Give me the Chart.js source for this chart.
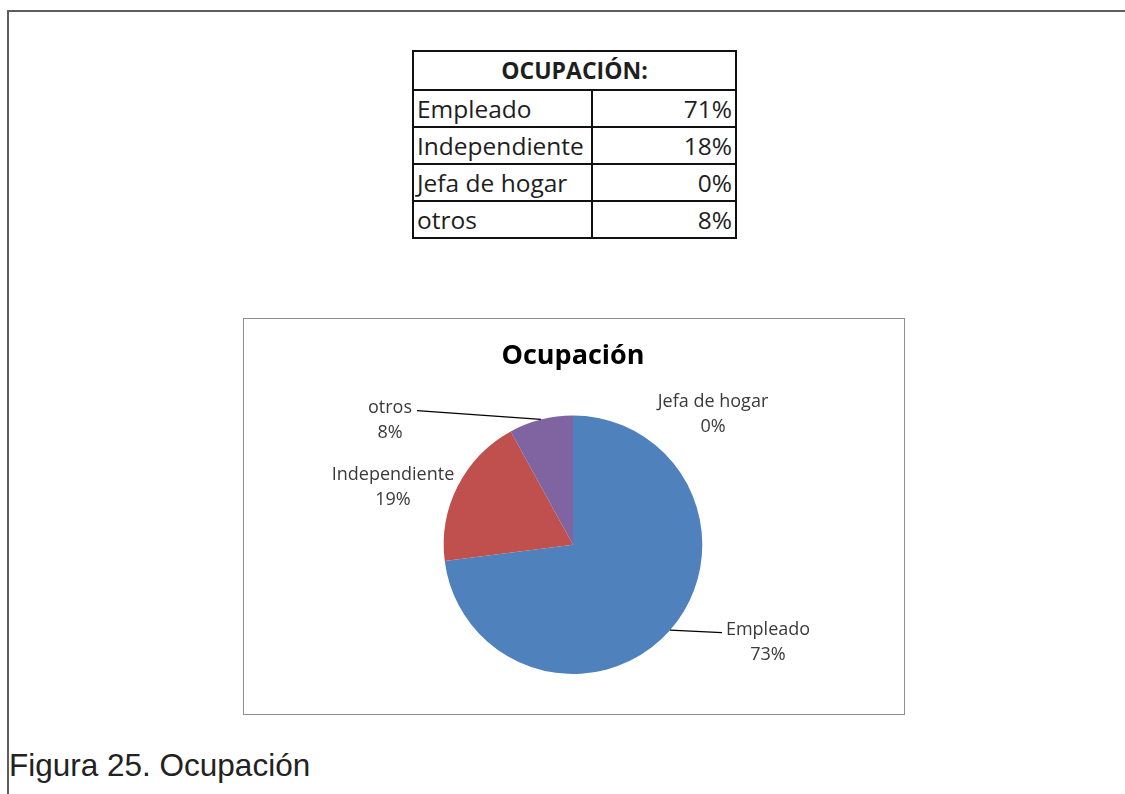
<!DOCTYPE html>
<html>
<head>
<meta charset="utf-8">
<script src="https://cdn.jsdelivr.net/npm/chart.js@4.4.1/dist/chart.umd.min.js"></script>
<style>
  body { margin: 0; background: #fff; width: 1125px; height: 794px; overflow: hidden; position: relative; font-family: "Open Sans", sans-serif; }
  #marco { position: absolute; left: 7px; top: 10px; width: 1130px; height: 800px; border-top: 2px solid #5e5e5e; border-left: 2px solid #5e5e5e; }
  #tabla { position: absolute; left: 412px; top: 50px; width: 325px; border-collapse: collapse; border: 2px solid #111; color: #1e1e1e; }
  #tabla td { border: 2px solid #111; padding: 0 3px; font-size: 24.5px; height: 35px; line-height: 35px; white-space: nowrap; }
  #tabla th { border: 2px solid #111; font-size: 23px; font-weight: 700; height: 37px; line-height: 37px; padding: 0; color: #1e1e1e; }
  #tabla td.num { text-align: right; }
  #caja { position: absolute; left: 243px; top: 318px; width: 660px; height: 395px; border: 1.5px solid #8e8e8e; }
  #grafico { position: absolute; left: 243px; top: 318px; }
  #pie { position: absolute; left: 9px; top: 747px; font-family: "Liberation Sans", Arial, sans-serif; font-size: 31.5px; color: #222; }
</style>
</head>
<body>
<div id="marco"></div>
<table id="tabla"></table>
<div id="caja"></div>
<canvas id="grafico" width="662" height="397"></canvas>
<div id="pie">Figura 25. Ocupación</div>

<script>
// categorías y porcentajes
const categorias = ['Empleado', 'Independiente', 'Jefa de hogar', 'otros'];
const valoresTabla = [71, 18, 0, 8];
const valoresGrafico = [73, 19, 0, 8];
const colores = ['#4F81BD', '#C0504D', '#9BBB59', '#8064A2'];

// tabla de arriba
const tabla = document.getElementById('tabla');
let filas = '<tr><th colspan="2">OCUPACIÓN:</th></tr>';
categorias.forEach((c, i) => {
  filas += '<tr><td style="width:171px">' + c + '</td><td class="num">' + valoresTabla[i] + '%</td></tr>';
});
tabla.innerHTML = filas;

// posición de cada etiqueta respecto al centro del pastel (y fin de la línea guía)
const posEtiquetas = [
  { dx: 195, dy: 97, guia: [-46, -9] },
  { dx: -180, dy: -58 },
  { dx: 140, dy: -131 },
  { dx: -183, dy: -125, guia: [27, -9] }
];

const etiquetas = {
  id: 'etiquetas',
  afterDatasetsDraw(chart) {
    const ctx = chart.ctx;
    const arcos = chart.getDatasetMeta(0).data;
    ctx.save();
    ctx.font = '18px "Open Sans", sans-serif';
    ctx.fillStyle = '#3a3a3a';
    ctx.textAlign = 'center';
    ctx.textBaseline = 'middle';
    arcos.forEach((arco, i) => {
      const p = arco.getProps(['x', 'y', 'outerRadius', 'startAngle', 'endAngle'], true);
      const pos = posEtiquetas[i];
      const tx = p.x + pos.dx, ty = p.y + pos.dy;
      if (pos.guia) {
        const medio = (p.startAngle + p.endAngle) / 2;
        ctx.beginPath();
        ctx.moveTo(p.x + Math.cos(medio) * p.outerRadius, p.y + Math.sin(medio) * p.outerRadius);
        ctx.lineTo(tx + pos.guia[0], ty + pos.guia[1]);
        ctx.strokeStyle = '#000';
        ctx.lineWidth = 1.2;
        ctx.stroke();
      }
      ctx.fillText(categorias[i], tx, ty - 12);
      ctx.fillText(valoresGrafico[i] + '%', tx, ty + 13);
    });
    ctx.restore();
  }
};

new Chart(document.getElementById('grafico'), {
  type: 'pie',
  data: {
    labels: categorias,
    datasets: [{
      data: valoresGrafico,
      backgroundColor: colores,
      borderWidth: 0
    }]
  },
  options: {
    responsive: false,
    animation: false,
    layout: { padding: { top: 0, bottom: 41, left: 0, right: 2 } },
    plugins: {
      legend: { display: false },
      tooltip: { enabled: false },
      title: {
        display: true,
        text: 'Ocupación',
        color: '#000',
        font: { family: '"Open Sans", sans-serif', size: 27, weight: 'bold' },
        padding: { top: 22, bottom: 43 }
      }
    }
  },
  plugins: [etiquetas]
});
</script>
</body>
</html>
